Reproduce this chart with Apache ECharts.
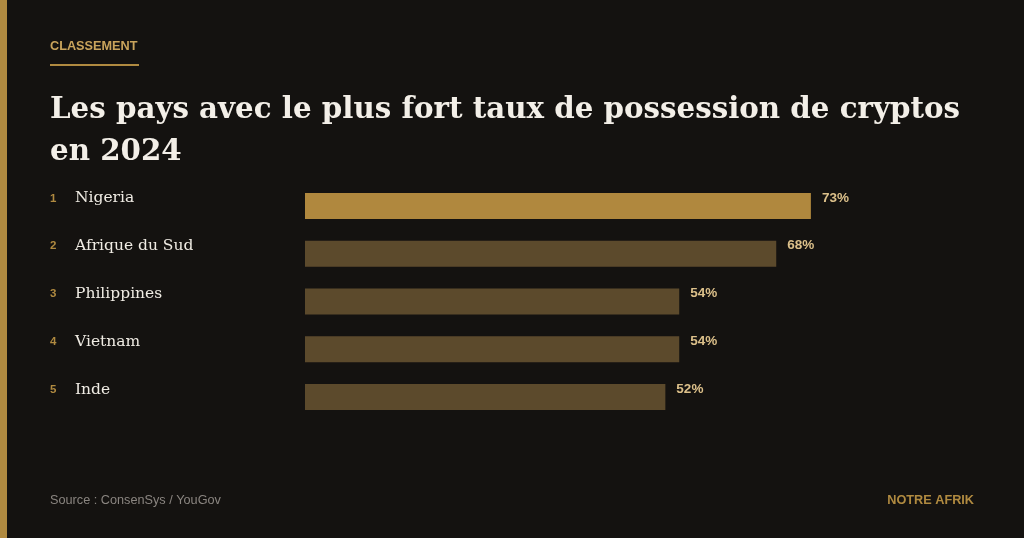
<!DOCTYPE html>
<html>
<head>
<meta charset="utf-8">
<script src="https://cdn.jsdelivr.net/npm/echarts@6/dist/echarts.min.js"></script>
<style>
  html, body { margin: 0; padding: 0; background: #141210; }
  #chart { width: 1024px; height: 538px; }
</style>
</head>
<body>
<div id="chart"></div>
<script>
// classement des pays (taux de possession de cryptos, %)
const ranks = ['1', '2', '3', '4', '5']
const countries = ['Nigeria', 'Afrique du Sud', 'Philippines', 'Vietnam', 'Inde']
const shares = [73, 68, 54, 54, 52]

const gold = '#b08a40'
const serif = "'DejaVu Serif', 'Liberation Serif', serif"
const sans = "'Liberation Sans', Arial, sans-serif"

const chart = echarts.init(document.getElementById('chart'))

const option = {
  backgroundColor: '#141210',
  animation: false,
  grid: { left: 305, right: 26, top: 182, bottom: 117 },
  xAxis: {
    type: 'value',
    min: 0,
    max: 100,
    show: false
  },
  yAxis: {
    type: 'category',
    inverse: true,
    data: countries,
    axisLine: { show: false },
    axisTick: { show: false },
    splitLine: { show: false },
    axisLabel: {
      align: 'left',
      margin: 255,
      padding: [0, 0, 15, 0],
      formatter: (val, i) => '{r|' + ranks[i] + '}{n|' + val + '}',
      rich: {
        r: { width: 25, color: gold, fontSize: 11.5, fontWeight: 'bold', fontFamily: sans },
        n: { color: '#f0ece4', fontSize: 15.5, fontFamily: serif }
      }
    }
  },
  series: [
    {
      type: 'bar',
      barWidth: 26,
      data: shares.map((v, i) => ({
        value: v,
        itemStyle: { color: i === 0 ? '#b0883e' : '#5c4a2c' }
      })),
      label: {
        show: true,
        position: 'right',
        distance: 11,
        offset: [0, -8],
        formatter: '{c}%',
        color: '#dcc08a',
        fontSize: 13.5,
        fontWeight: 'bold',
        fontFamily: sans
      }
    }
  ],
  graphic: [
    { type: 'rect', left: 0, top: 0, shape: { width: 7, height: 538 }, style: { fill: gold } },
    {
      type: 'text', left: 50, top: 40,
      style: { text: 'CLASSEMENT', fill: '#c9a45c', font: 'bold 12.7px ' + sans }
    },
    { type: 'rect', left: 50, top: 64, shape: { width: 89, height: 2 }, style: { fill: gold } },
    {
      type: 'text', left: 50, top: 89,
      style: {
        text: 'Les pays avec le plus fort taux de possession de cryptos\nen 2024',
        fill: '#f3efe8',
        font: 'bold 29.3px ' + serif,
        lineHeight: 42
      }
    },
    {
      type: 'text', left: 50, top: 494,
      style: { text: 'Source : ConsenSys / YouGov', fill: '#8a8580', font: '12.7px ' + sans }
    },
    {
      type: 'text', right: 50, top: 494,
      style: { text: 'NOTRE AFRIK', fill: gold, font: 'bold 12.7px ' + sans }
    }
  ]
}

chart.setOption(option)
</script>
</body>
</html>
